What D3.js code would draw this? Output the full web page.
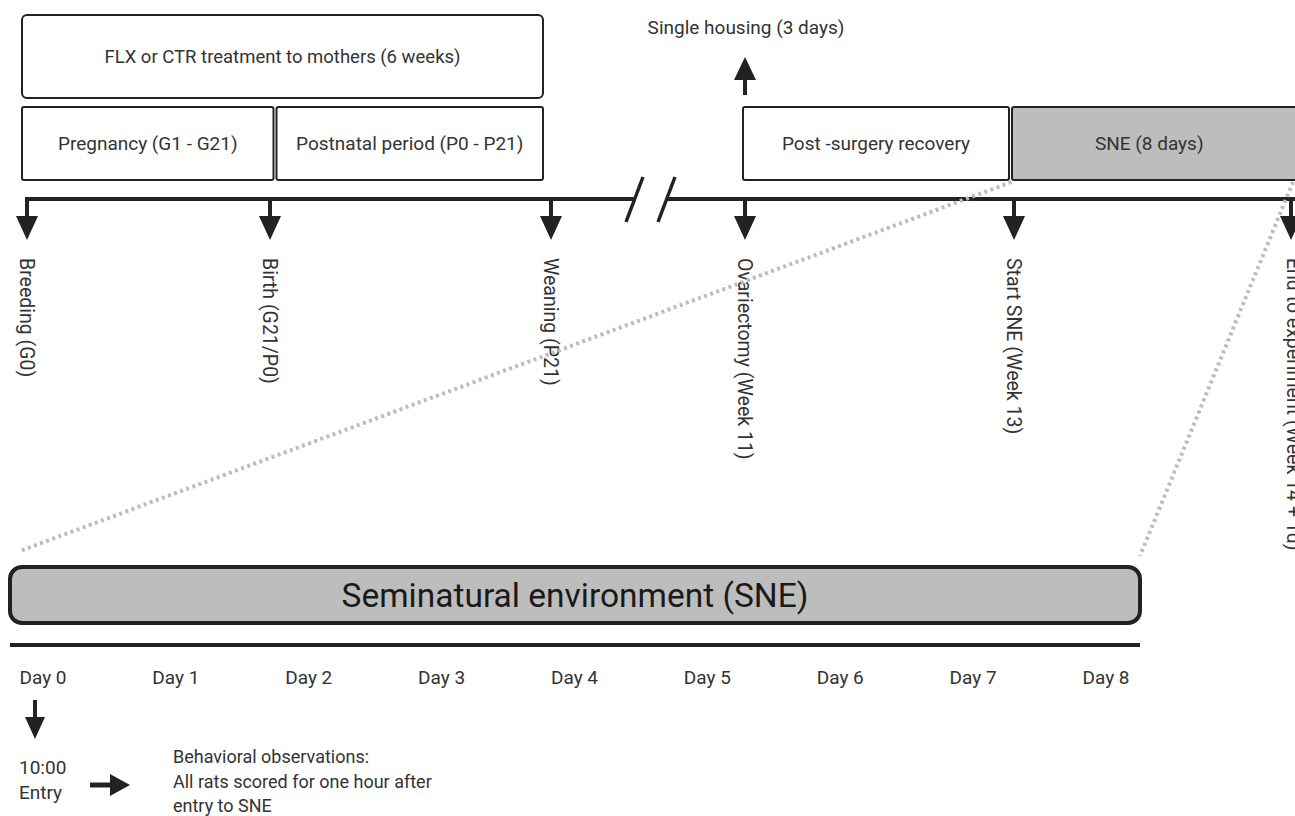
<!DOCTYPE html>
<html><head><meta charset="utf-8">
<script src="https://cdn.jsdelivr.net/npm/d3@7"></script>
<style>
html,body{margin:0;padding:0;background:#fff;}
svg{display:block;font-family:Roboto,"Noto Sans",sans-serif;}
</style></head>
<body>
<script>
// ---- data ----
const eventLabels = ["Breeding (G0)", "Birth (G21/P0)", "Weaning (P21)", "Ovariectomy (Week 11)", "Start SNE (Week 13)", "End to experiment (Week 14 + 1d)"];
const eventDays = [0, 21, 42, 77, 91, 99];
const phaseLabels = ["Pregnancy (G1 - G21)", "Postnatal period (P0 - P21)", "Post -surgery recovery", "SNE (8 days)"];
const phaseStart = [0, 21, 77, 91];
const phaseEnd = [21, 42, 91, 99];
const phaseShaded = [false, false, false, true];
const treatmentLabel = "FLX or CTR treatment to mothers (6 weeks)";
const treatmentSpan = [0, 42];
const housingLabel = "Single housing (3 days)";
const housingDay = 77;
const sneTitle = "Seminatural environment (SNE)";
const dayLabels = ["Day 0", "Day 1", "Day 2", "Day 3", "Day 4", "Day 5", "Day 6", "Day 7", "Day 8"];
const dayValues = [0, 1, 2, 3, 4, 5, 6, 7, 8];
const entryLines = ["10:00", "Entry"];
const obsLines = ["Behavioral observations:", "All rats scored for one hour after", "entry to SNE"];

// ---- layout ----
const W = 1295, H = 816;
const ink = "#222", txt = "#333", shade = "#bdbdbd", dotGrey = "#bcbcbc";
const svg = d3.select("body").append("svg").attr("width", W).attr("height", H);

// piecewise timeline scales (broken axis)
const x = d3.scaleLinear().domain(eventDays).range([27, 270, 551, 745, 1014, 1291]);
const xb = d3.scaleLinear().domain(eventDays).range([20.5, 275, 544.5, 741.5, 1010.5, 1300]);
const dayX = d3.scaleLinear().domain([0, 8]).range([43, 1106]);

const lineY = 199;

function downArrow(g, cx, y0, stemLen, headLen, headW) {
  g.append("line").attr("x1", cx).attr("x2", cx).attr("y1", y0).attr("y2", y0 + stemLen + 1)
    .attr("stroke", ink).attr("stroke-width", 4);
  g.append("path").attr("d", `M${cx - headW / 2},${y0 + stemLen} L${cx + headW / 2},${y0 + stemLen} L${cx},${y0 + stemLen + headLen} Z`)
    .attr("fill", ink);
}

// treatment box
svg.append("rect").attr("x", xb(treatmentSpan[0]) + 1.5).attr("y", 15)
  .attr("width", xb(treatmentSpan[1]) - xb(treatmentSpan[0]) - 3).attr("height", 83)
  .attr("rx", 5).attr("fill", "#fff").attr("stroke", ink).attr("stroke-width", 2);
svg.append("text").attr("x", (xb(treatmentSpan[0]) + xb(treatmentSpan[1])) / 2).attr("y", 57)
  .attr("dy", "0.35em").attr("text-anchor", "middle").attr("font-size", 18.5).attr("fill", txt).text(treatmentLabel);

// phase boxes
const phases = phaseLabels.map((l, i) => ({l, s: phaseStart[i], e: phaseEnd[i], sh: phaseShaded[i]}));
const pg = svg.append("g").selectAll("g").data(phases).join("g");
pg.append("rect").attr("x", d => xb(d.s) + 1.5).attr("y", 107)
  .attr("width", d => xb(d.e) - xb(d.s) - 3).attr("height", 73).attr("rx", 2)
  .attr("fill", d => d.sh ? shade : "#fff").attr("stroke", ink).attr("stroke-width", 2);
pg.append("text").attr("x", d => (xb(d.s) + Math.min(xb(d.e), W + 10)) / 2 - (d.e === 99 ? 6 : 0)).attr("y", 143)
  .attr("dy", "0.35em").attr("text-anchor", "middle").attr("font-size", 19).attr("fill", txt).text(d => d.l);

// single housing arrow
const hx = x(housingDay);
svg.append("line").attr("x1", hx).attr("x2", hx).attr("y1", 95).attr("y2", 78).attr("stroke", ink).attr("stroke-width", 4);
svg.append("path").attr("d", `M${hx - 11},${80} L${hx + 11},${80} L${hx},${57} Z`).attr("fill", ink);
svg.append("text").attr("x", hx + 1).attr("y", 27).attr("dy", "0.35em").attr("text-anchor", "middle")
  .attr("font-size", 19).attr("fill", txt).text(housingLabel);

// timeline with break
const brk = (x(42) + x(77)) / 2 + 2;
svg.append("line").attr("x1", x(0) - 2).attr("x2", brk - 14).attr("y1", lineY).attr("y2", lineY).attr("stroke", ink).attr("stroke-width", 4);
svg.append("line").attr("x1", brk + 17).attr("x2", W + 5).attr("y1", lineY).attr("y2", lineY).attr("stroke", ink).attr("stroke-width", 4);
[-15, 17].forEach(o => {
  svg.append("line").attr("x1", brk + o - 9).attr("y1", lineY + 23).attr("x2", brk + o + 8).attr("y2", lineY - 22)
    .attr("stroke", ink).attr("stroke-width", 3.5);
});

// event arrows and labels
const events = eventLabels.map((l, i) => ({l, d: eventDays[i]}));
const eg = svg.append("g");
events.forEach(ev => downArrow(eg, x(ev.d), lineY - 2, 19, 24, 22));
eg.selectAll("text.ev").data(events).join("text").attr("class", "ev")
  .attr("transform", d => `translate(${x(d.d) + (d.d === 99 ? 3 : 0)},258) rotate(90)`)
  .attr("dy", "0.35em").attr("font-size", 19.5).attr("fill", txt).text(d => d.l);

// dotted zoom lines
const zoomLines = [[[xb(91) + 1, 182], [20, 551]], [[1293, 182], [1140, 556]]];
zoomLines.forEach(p => {
  svg.append("line").attr("x1", p[0][0]).attr("y1", p[0][1]).attr("x2", p[1][0]).attr("y2", p[1][1])
    .attr("stroke", dotGrey).attr("stroke-width", 4).attr("stroke-dasharray", "3 3.5");
});

// SNE expanded box
const bx0 = 10, bx1 = 1140;
svg.append("rect").attr("x", bx0).attr("y", 567).attr("width", bx1 - bx0).attr("height", 56).attr("rx", 12)
  .attr("fill", shade).attr("stroke", ink).attr("stroke-width", 4);
svg.append("text").attr("x", (bx0 + bx1) / 2).attr("y", 595).attr("dy", "0.35em").attr("text-anchor", "middle")
  .attr("font-size", 33.5).attr("fill", "#1a1a1a").text(sneTitle);
svg.append("line").attr("x1", bx0).attr("x2", bx1).attr("y1", 645).attr("y2", 645).attr("stroke", ink).attr("stroke-width", 4);

// day axis labels
svg.append("g").selectAll("text").data(dayValues).join("text")
  .attr("x", d => dayX(d)).attr("y", 677).attr("dy", "0.35em").attr("text-anchor", "middle")
  .attr("font-size", 19).attr("fill", txt).text((d, i) => dayLabels[i]);

// entry arrow
downArrow(svg, 35, 700, 17, 22, 20);
svg.append("g").selectAll("text").data(entryLines).join("text")
  .attr("x", 19).attr("y", (d, i) => 767 + i * 25).attr("dy", "0.35em").attr("font-size", 19).attr("fill", txt).text(d => d);
// right arrow
svg.append("line").attr("x1", 90).attr("x2", 112).attr("y1", 785).attr("y2", 785).attr("stroke", ink).attr("stroke-width", 5);
svg.append("path").attr("d", "M110,774 L110,796 L130,785 Z").attr("fill", ink);
svg.append("g").selectAll("text").data(obsLines).join("text")
  .attr("x", 173).attr("y", (d, i) => 757 + i * 24.5).attr("dy", "0.35em").attr("font-size", 18).attr("fill", txt).text(d => d);
</script>
</body></html>
